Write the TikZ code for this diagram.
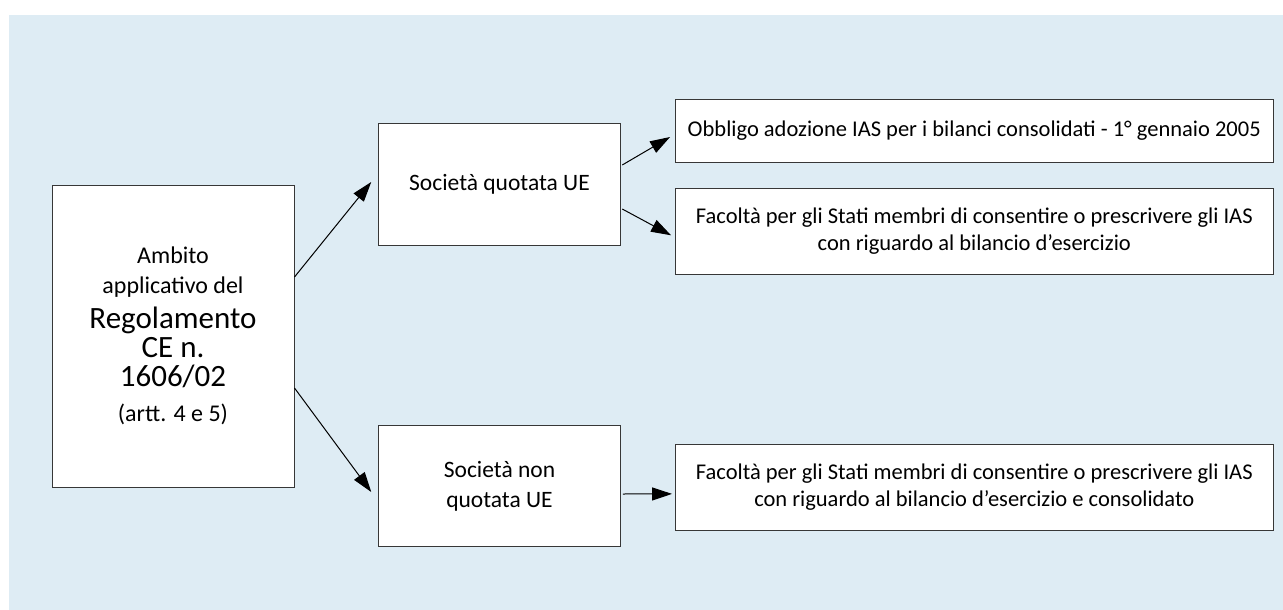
\documentclass[tikz,border=0pt]{standalone}
\usepackage{fontspec}
\setmainfont{Carlito}
\usetikzlibrary{arrows.meta}
\definecolor{bgblue}{RGB}{222,236,244}
\definecolor{boxline}{RGB}{55,55,55}
\begin{document}
\begin{tikzpicture}[x=1pt,y=-1pt,
  box/.style={draw=boxline, line width=1pt, fill=white, inner sep=0pt, align=center,
    font=\fontsize{22.5}{27}\selectfont},
  arr/.style={line width=1pt, -{Triangle[length=20pt,width=13pt]}}]
\useasboundingbox (0,0) rectangle (1283,610);
\fill[bgblue] (9,15) rectangle (1283,610);
% boxes
\node[box, minimum width=242pt, minimum height=302pt, font=\fontsize{24}{30}\selectfont] (amb) at (173,336)
  {Ambito\\ applicativo del\\[5pt]
   {\fontsize{31}{29}\selectfont Regolamento}\\[-1pt]
   {\fontsize{31}{29}\selectfont CE n.}\\[-1pt]
   {\fontsize{31}{29}\selectfont 1606/02}\\[5pt]
   (artt. 4 e 5)};
\node[box, minimum width=241.5pt, minimum height=121.7pt, font=\fontsize{23.5}{27}\selectfont] (quo) at (499.5,184.5)
  {Società quotata UE};
\node[box, minimum width=241.5pt, minimum height=121.7pt, font=\fontsize{23.5}{30}\selectfont] (nqu) at (499.5,486)
  {Società non\\ quotata UE};
\node[box, minimum width=597.5pt, minimum height=63.4pt] (obb) at (974.3,131)
  {Obbligo adozione IAS per i bilanci consolidati - 1° gennaio 2005};
\node[box, minimum width=597.5pt, minimum height=86pt] (fa1) at (974.3,231.3)
  {Facoltà per gli Stati membri di consentire o prescrivere gli IAS\\
   con riguardo al bilancio d’esercizio};
\node[box, minimum width=597.5pt, minimum height=86.2pt] (fa2) at (974.3,487.4)
  {Facoltà per gli Stati membri di consentire o prescrivere gli IAS\\
   con riguardo al bilancio d’esercizio e consolidato};
% connectors
\draw[arr] ([yshift=59pt]amb.east) -- ([xshift=-7pt,yshift=2.5pt]quo.west);
\draw[arr] ([yshift=-52pt]amb.east) -- ([xshift=-7pt,yshift=-6pt]nqu.west);
\draw[arr] ([xshift=1.5pt,yshift=19.5pt]quo.east) -- ([xshift=-5pt,yshift=-6pt]obb.west);
\draw[arr] ([xshift=1.5pt,yshift=-24.5pt]quo.east) -- ([xshift=-4pt,yshift=-4pt]fa1.west);
\draw[arr] ([xshift=2pt,yshift=-8pt]nqu.east) -- ([xshift=-3pt,yshift=-6.5pt]fa2.west);
\end{tikzpicture}
\end{document}
